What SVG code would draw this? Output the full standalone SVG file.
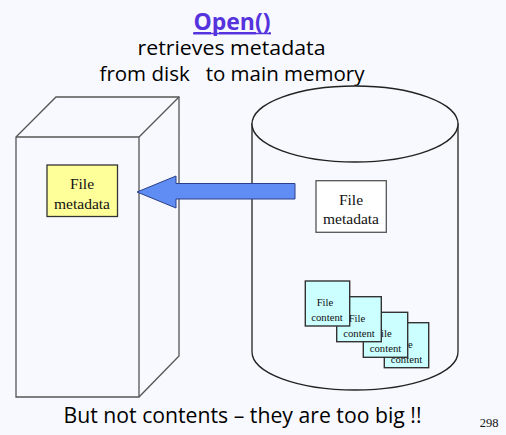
<svg xmlns="http://www.w3.org/2000/svg" width="506" height="435" viewBox="0 0 506 435">
<style>
.bg{fill:#f8f9fe}
.edge{fill:none;stroke:#555;stroke-width:1.3}
.face{fill:#f8f9fe;stroke:#555;stroke-width:1.3}
.cyl{fill:#f8f9fe;stroke:#222;stroke-width:1.3}
.t{font-family:"Times New Roman","Liberation Serif",serif;fill:#111;text-anchor:middle}
.meta{font-size:15.5px}
.cnt{font-size:10.7px}
.cbox{fill:#ccffff;stroke:#333;stroke-width:1.4}
.h{font-family:"Open Sans","Liberation Sans",sans-serif;fill:#000;text-anchor:middle}
</style>
<rect class="bg" x="0" y="0" width="506" height="435"/>
<g id="title">
<text class="h" x="232" y="30" font-size="23" font-weight="bold" fill="#5533dd" style="fill:#5533dd" text-decoration="underline" textLength="77" lengthAdjust="spacingAndGlyphs">Open()</text>
<line x1="193" y1="33.5" x2="271" y2="33.5" stroke="#5533dd" stroke-width="1.6"/>
<text class="h" x="231.5" y="55" font-size="20" textLength="188" lengthAdjust="spacingAndGlyphs">retrieves metadata</text>
<text class="h" x="232" y="81" font-size="20" textLength="265" lengthAdjust="spacingAndGlyphs" xml:space="preserve">from disk   to main memory</text>
</g>
<g id="memory">
<path class="face" d="M16,137 L56,97 L179,97 L179,356 L139,397 L16,397 Z"/>
<path class="edge" d="M16,137 L139,137 L179,97 M139,137 L139,397"/>
</g>
<g id="mem-metadata">
<rect x="47" y="165" width="70.5" height="51.5" fill="#ffff99" stroke="#333" stroke-width="1.3"/>
<text class="t meta" x="82" y="189">File</text>
<text class="t meta" x="82" y="209">metadata</text>
</g>
<g id="disk">
<path class="cyl" d="M252,123 L252,352 A103,38 0 0 0 458,352 L458,123"/>
<ellipse class="cyl" cx="355" cy="124" rx="103" ry="38"/>
</g>
<g id="disk-metadata">
<rect x="316" y="180.7" width="70.3" height="51.6" fill="#ffffff" stroke="#555" stroke-width="1.3"/>
<text class="t meta" x="351" y="204.5">File</text>
<text class="t meta" x="351" y="224">metadata</text>
</g>
<g id="contents">
<rect class="cbox" x="384.3" y="322.7" width="44.4" height="45"/>
<text class="t cnt" x="404.5" y="347.7">File</text>
<text class="t cnt" x="406.5" y="362.7">content</text>
<rect class="cbox" x="363.3" y="312.3" width="44.4" height="45"/>
<text class="t cnt" x="383.5" y="337.3">File</text>
<text class="t cnt" x="385.5" y="352.3">content</text>
<rect class="cbox" x="336.7" y="296.7" width="44.6" height="45"/>
<text class="t cnt" x="357" y="321.7">File</text>
<text class="t cnt" x="359" y="336.7">content</text>
<rect class="cbox" x="305.3" y="281" width="44.4" height="45"/>
<text class="t cnt" x="325" y="306">File</text>
<text class="t cnt" x="327" y="321">content</text>
</g>
<g id="connectors">
<polygon points="137,192 176,176 176,183.5 295,183.5 295,199 176,199 176,208" fill="#5f8df3" stroke="#2b3f8a" stroke-width="1"/>
</g>
<g id="footer">
<text class="h" x="242.5" y="423" font-size="21" textLength="358" lengthAdjust="spacingAndGlyphs">But not contents – they are too big !!</text>
<text class="t" x="489" y="426.5" font-size="12.5">298</text>
</g>
</svg>
